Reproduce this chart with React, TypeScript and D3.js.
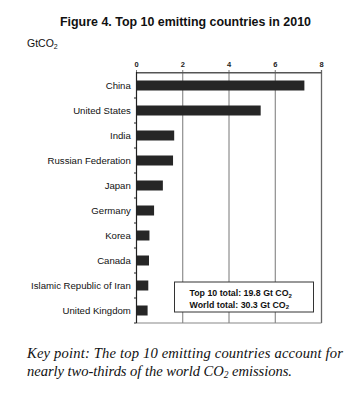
import React from "react";
import * as d3 from "d3";

const countries = ["China", "United States", "India", "Russian Federation", "Japan", "Germany", "Korea", "Canada", "Islamic Republic of Iran", "United Kingdom"];
const emissions = [7.26, 5.37, 1.63, 1.58, 1.14, 0.76, 0.56, 0.54, 0.51, 0.48];
const xTicks = [0, 2, 4, 6, 8];

export default function App() {
  const W = 357, H = 395;
  const x = d3.scaleLinear().domain([0, 8]).range([136.5, 321.5]);
  const y = d3.scaleBand<string>().domain(countries).range([73, 323]).paddingInner(0.6).paddingOuter(0.3);
  const step = y.step();
  const font = "Arial, 'Liberation Sans', Helvetica, sans-serif";
  const serif = "'Liberation Serif', 'Times New Roman', serif";
  return (
    <svg width={W} height={H} style={{ position: "absolute", left: 0, top: 0, background: "#fff" }}>
      <text x={60} y={25.5} textLength={251} lengthAdjust="spacingAndGlyphs" fontFamily={font} fontWeight="bold" fontSize={13.4} fill="#111">
        Figure 4. Top 10 emitting countries in 2010
      </text>
      <text x={27} y={46.5} fontFamily={font} fontSize={10.5} fill="#111">
        GtCO<tspan fontSize={7} dy={2}>2</tspan>
      </text>
      {xTicks.map((t) => (
        <line key={"g" + t} x1={x(t)} x2={x(t)} y1={70} y2={323} stroke={t === 8 ? "#666" : "#777"} strokeWidth={t === 8 ? 1.3 : 1} />
      ))}
      <line x1={x(0)} x2={x(8)} y1={323} y2={323} stroke="#888" strokeWidth={1.2} />
      <line x1={x(0)} x2={x(8)} y1={72.8} y2={72.8} stroke="#555" strokeWidth={1.5} />
      {xTicks.map((t) => (
        <text key={"t" + t} x={x(t)} y={66.5} textAnchor="middle" fontFamily={font} fontSize={7.5} fontWeight="bold" fill="#222">
          {t}
        </text>
      ))}
      {countries.map((c, i) => (
        <rect key={c} x={x(0)} y={y(c)!} width={x(emissions[i]) - x(0)} height={y.bandwidth()} fill="#262626" />
      ))}
      <line x1={x(0)} x2={x(0)} y1={72} y2={323} stroke="#222" strokeWidth={1.2} />
      {countries.map((c, i) => (
        <line key={"lt" + c} x1={x(0) - 2.5} x2={x(0)} y1={73 + step * (i + 1)} y2={73 + step * (i + 1)} stroke="#222" strokeWidth={1} />
      ))}
      {countries.map((c) => (
        <text key={"l" + c} x={130.8} y={y(c)! + y.bandwidth() / 2 + 3.5} textAnchor="end" fontFamily={font} fontSize={9.6} fill="#111">
          {c}
        </text>
      ))}
      <rect x={174.5} y={282} width={139} height={30} fill="#fff" stroke="#333" strokeWidth={1} />
      <text x={189.5} y={296} fontFamily={font} fontSize={8.8} fontWeight="bold" fill="#111">
        Top 10 total:  19.8 Gt CO<tspan fontSize={6} dy={1.5}>2</tspan>
      </text>
      <text x={189.5} y={307.5} fontFamily={font} fontSize={8.8} fontWeight="bold" fill="#111">
        World total:   30.3 Gt CO<tspan fontSize={6} dy={1.5}>2</tspan>
      </text>
      <text x={27} y={357.5} textLength={316} lengthAdjust="spacing" fontFamily={serif} fontStyle="italic" fontSize={14.6} fill="#111">
        Key point: The top 10 emitting countries account for
      </text>
      <text x={27} y={376} textLength={265} lengthAdjust="spacing" fontFamily={serif} fontStyle="italic" fontSize={14.6} fill="#111">
        nearly two-thirds of the world CO<tspan fontSize={9.5} dy={2}>2</tspan><tspan dy={-2}> emissions.</tspan>
      </text>
    </svg>
  );
}
